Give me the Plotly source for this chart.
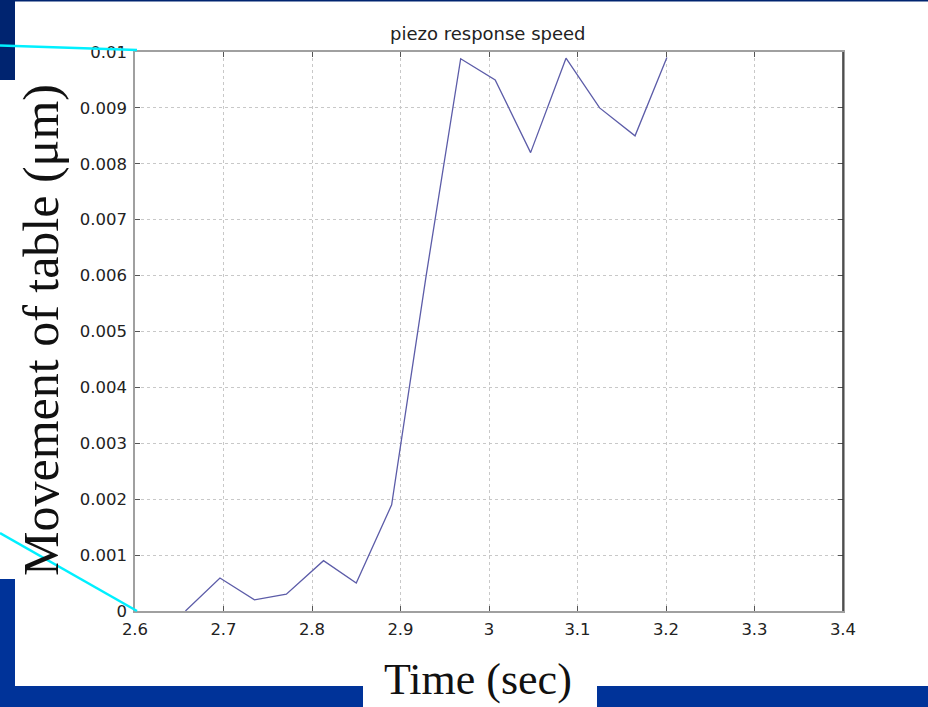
import plotly.graph_objects as go

# ---- data ----
time_s = [2.657, 2.696, 2.735, 2.771, 2.813, 2.850, 2.890, 2.929, 2.968,
          3.007, 3.047, 3.087, 3.125, 3.165, 3.201]
movement = [0.0, 0.00059, 0.0002, 0.0003, 0.0009, 0.0005, 0.0019, 0.0060,
            0.00988, 0.0095, 0.0082, 0.00989, 0.0090, 0.0085, 0.0099]

x_ticks = [2.6, 2.7, 2.8, 2.9, 3.0, 3.1, 3.2, 3.3, 3.4]
x_tick_text = ["2.6", "2.7", "2.8", "2.9", "3", "3.1", "3.2", "3.3", "3.4"]
y_ticks = [0, 0.001, 0.002, 0.003, 0.004, 0.005, 0.006, 0.007, 0.008, 0.009, 0.01]
y_tick_text = ["0", "0.001", "0.002", "0.003", "0.004", "0.005", "0.006",
               "0.007", "0.008", "0.009", "0.01"]

title_text = "piezo response speed"
x_title = "Time (sec)"
y_title = "Movement of table (\u03bcm)"

# ---- layout in pixels ----
W, H = 928, 707
PL, PR, PT, PB = 135, 843, 52, 611  # plot area edges


def px(x):
    return (x - PL) / (PR - PL)


def py(y):
    return (PB - y) / (PB - PT)


fig = go.Figure()
fig.add_trace(go.Scatter(x=time_s, y=movement, mode="lines",
                         line=dict(color="#5c5ca8", width=1.3),
                         showlegend=False, hoverinfo="skip"))

tick_font = dict(family="DejaVu Sans, Verdana, sans-serif", size=16.5, color="#222222")

fig.update_xaxes(range=[2.6, 3.4], tickvals=x_ticks, ticktext=x_tick_text,
                 showgrid=True, gridcolor="#c8c8c8", griddash="dot", gridwidth=1,
                 showline=True, linecolor="#a0a0a0", linewidth=1.5, mirror="allticks",
                 ticks="inside", ticklen=5, tickcolor="#555555",
                 tickfont=tick_font, zeroline=False, ticklabelstandoff=2)
fig.update_yaxes(range=[0, 0.01], tickvals=y_ticks, ticktext=y_tick_text,
                 showgrid=True, gridcolor="#c8c8c8", griddash="dot", gridwidth=1,
                 showline=True, linecolor="#a0a0a0", linewidth=1.5, mirror="allticks",
                 ticks="inside", ticklen=5, tickcolor="#555555",
                 tickfont=tick_font, zeroline=False, ticklabelstandoff=3)

shapes = []
navy = "#002470"
blue = "#003399"


def rect(x0, y0, x1, y1, color):
    shapes.append(dict(type="rect", xref="paper", yref="paper",
                       x0=px(x0), x1=px(x1), y0=py(y1), y1=py(y0),
                       fillcolor=color, line=dict(width=0), layer="above"))


def seg(x0, y0, x1, y1, color, width):
    shapes.append(dict(type="line", xref="paper", yref="paper",
                       x0=px(x0), x1=px(x1), y0=py(y0), y1=py(y1),
                       line=dict(color=color, width=width), layer="above"))


rect(0, 0, W, 1.5, navy)
rect(0, 0, 15, 80, navy)
rect(0, 579, 15, H, blue)
rect(0, 686, 363, H, blue)
rect(597, 686, W, H, blue)
seg(0, 45.5, 137, 50, "#00f0ff", 2.5)
seg(0, 533, 137, 611, "#00f0ff", 2.5)
# darker right border as in the reference
seg(PR, PT, PR, PB, "#333333", 1.5)

annotations = [
    dict(text=title_text, xref="paper", yref="paper", x=px(488), y=py(33),
         xanchor="center", yanchor="middle", showarrow=False,
         font=dict(family="DejaVu Sans, Verdana, sans-serif", size=18, color="#222222")),
    dict(text=x_title, xref="paper", yref="paper", x=px(478), y=py(679),
         xanchor="center", yanchor="middle", showarrow=False,
         font=dict(family="Liberation Serif, Times New Roman, serif", size=44, color="#111111")),
    dict(text=y_title, xref="paper", yref="paper", x=px(41), y=py(330),
         xanchor="center", yanchor="middle", showarrow=False, textangle=-90,
         font=dict(family="Liberation Serif, Times New Roman, serif", size=50, color="#111111")),
]

fig.update_layout(width=W, height=H, autosize=False,
                  margin=dict(l=PL, r=W - PR, t=PT, b=H - PB, pad=0),
                  paper_bgcolor="white", plot_bgcolor="white",
                  shapes=shapes, annotations=annotations)

fig.write_html("out.html", include_plotlyjs=True, full_html=True,
               config={"displayModeBar": False})
